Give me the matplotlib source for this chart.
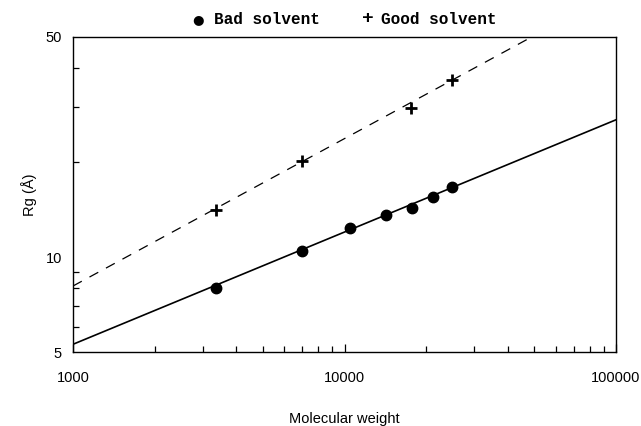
import matplotlib
matplotlib.use("Agg")
import matplotlib.pyplot as plt
from matplotlib.ticker import FixedLocator, NullFormatter, FixedFormatter

# measured points
mw_bad = [3350, 7000, 10500, 14200, 17700, 21200, 24900]
rg_bad = [8.0, 10.5, 12.4, 13.6, 14.3, 15.5, 16.7]
mw_good = [3350, 7000, 17600, 24900]
rg_good = [14.1, 20.2, 29.8, 36.5]

# power-law fits (end values)
fit_mw = [1000, 100000]
fit_bad = [5.29, 27.3]
fit_good = [8.1, 69.9]

plt.rcParams["font.family"] = ["Liberation Sans", "DejaVu Sans"]

fig = plt.figure(figsize=(6.41, 4.26), dpi=100)
ax = fig.add_axes([73/641, 1-352/426, 543/641, 315/426])

ax.plot(fit_mw, fit_bad, color="black", lw=1.2)
ax.plot(fit_mw, fit_good, color="black", lw=0.9, linestyle=(0, (8, 7)))
ax.plot(mw_bad, rg_bad, "o", color="black", ms=7.5, zorder=3)
ax.plot(mw_good, rg_good, "+", color="black", ms=8, mew=2, zorder=3)

ax.set_xscale("log"); ax.set_yscale("log")
ax.set_xlim(1000, 100000); ax.set_ylim(5, 50)

ax.xaxis.set_major_locator(FixedLocator([1000, 10000, 100000]))
ax.xaxis.set_major_formatter(FixedFormatter(["1000", "10000", "100000"]))
ax.xaxis.set_minor_locator(FixedLocator([k*m for m in (1000, 10000) for k in range(2, 10)]))
ax.xaxis.set_minor_formatter(NullFormatter())
ax.yaxis.set_major_locator(FixedLocator([5, 10, 50]))
ax.yaxis.set_major_formatter(FixedFormatter(["5", "10", "50"]))
ax.yaxis.set_minor_locator(FixedLocator([6, 7, 8, 9, 20, 30, 40]))
ax.yaxis.set_minor_formatter(NullFormatter())

ax.tick_params(which="both", direction="in", labelsize=10.5, width=0.9)
ax.tick_params(axis="x", which="major", length=6, pad=14)
ax.tick_params(axis="y", which="major", length=0, pad=8)
ax.tick_params(which="minor", length=4)
for s in ax.spines.values():
    s.set_linewidth(1.0)

ax.set_xlabel("Molecular weight", fontsize=10.5, labelpad=19)
ax.set_ylabel("Rg (Å)", fontsize=10.5, labelpad=6)

# legend drawn as text row above the axes
fig.text(198/641, 1-20/426, "●", fontsize=9.5, ha="center", va="center", family="DejaVu Sans")
fig.text(214/641, 1-19/426, "Bad solvent", fontsize=11.5, ha="left", va="center",
         family="Liberation Mono", weight="bold")
fig.text(368/641, 1-19/426, "+", fontsize=14, ha="center", va="center",
         family="Liberation Mono", weight="bold")
fig.text(381/641, 1-19/426, "Good solvent", fontsize=11.5, ha="left", va="center",
         family="Liberation Mono", weight="bold")

fig.savefig("out.png", dpi=100)
